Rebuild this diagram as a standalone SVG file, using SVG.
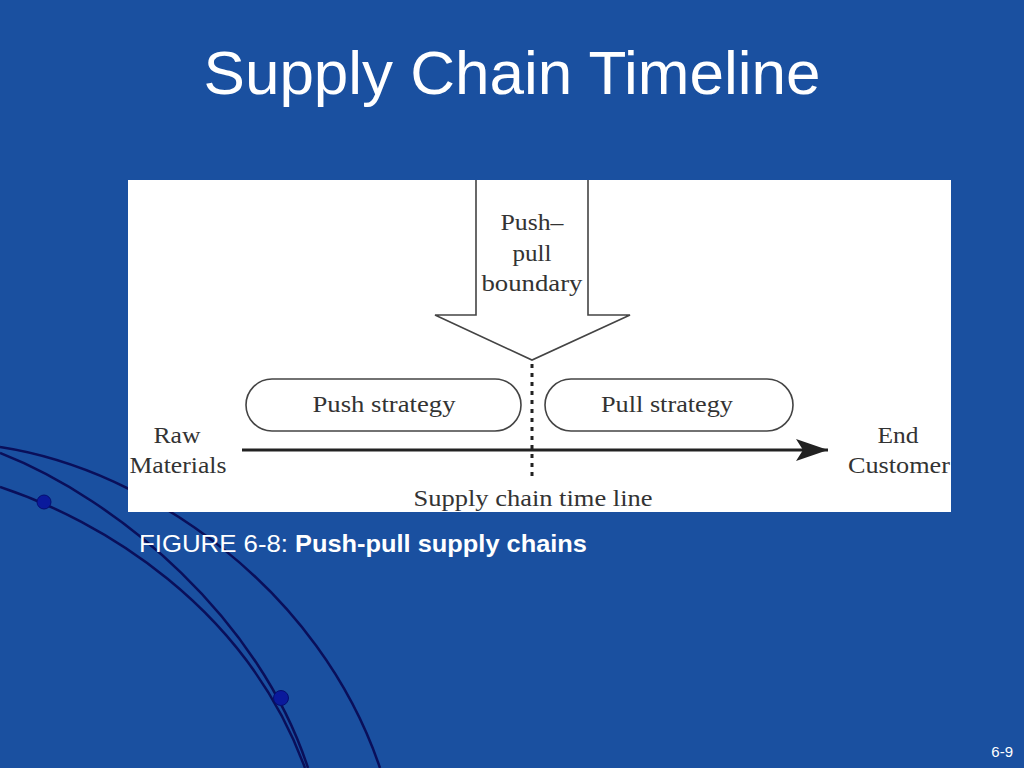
<svg xmlns="http://www.w3.org/2000/svg" width="1024" height="768" viewBox="0 0 1024 768">
<defs>
<style>
.swoosh{fill:none;stroke:#0a0f5a;stroke-width:2.5}
.dot{fill:#0a1a9c;stroke:#050f70;stroke-width:1}
.fig{font-family:"Liberation Serif","Times New Roman",serif;font-size:24px;fill:#333;text-anchor:middle}
.shape{fill:#fff;stroke:#444;stroke-width:1.6}
.white{font-family:"Liberation Sans",Arial,sans-serif;fill:#fff}
</style>
<marker id="head" markerUnits="userSpaceOnUse" markerWidth="34" markerHeight="24" refX="32" refY="11" orient="auto">
<path d="M0,0 L32,11 L0,22 L7,11 z" fill="#222"/>
</marker>
</defs>
<rect width="1024" height="768" fill="#1a50a0"/>
<g id="decoration">
<path class="swoosh" d="M0,447 C150,470 320,590 380,768"/>
<path class="swoosh" d="M0,453 C120,500 260,620 308,768"/>
<path class="swoosh" d="M0,487 C100,520 245,605 305,768"/>
<circle class="dot" cx="44" cy="502" r="7"/>
<circle class="dot" cx="281" cy="698" r="7.5"/>
</g>
<g id="title">
<text class="white" x="512" y="94" font-size="62" text-anchor="middle">Supply Chain Timeline</text>
</g>
<g id="figure-box">
<rect x="128" y="180" width="823" height="332" fill="#fff"/>
</g>
<g id="connectors">
<line x1="532" y1="364" x2="532" y2="476" stroke="#222" stroke-width="3" stroke-dasharray="4 5"/>
<line x1="242" y1="450" x2="828" y2="450" stroke="#222" stroke-width="3" marker-end="url(#head)"/>
</g>
<g id="push-pull-boundary">
<path class="shape" d="M476,180 L476,315 L435,315 L532,360 L630,315 L588,315 L588,180"/>
<text class="fig" x="532" y="230" textLength="63" lengthAdjust="spacingAndGlyphs">Push–</text>
<text class="fig" x="532" y="261" textLength="39" lengthAdjust="spacingAndGlyphs">pull</text>
<text class="fig" x="532" y="291" textLength="101" lengthAdjust="spacingAndGlyphs">boundary</text>
</g>
<g id="push-strategy">
<rect class="shape" x="246" y="379" width="275" height="52" rx="26"/>
<text class="fig" x="384" y="412" textLength="143" lengthAdjust="spacingAndGlyphs">Push strategy</text>
</g>
<g id="pull-strategy">
<rect class="shape" x="545" y="379" width="248" height="52" rx="26"/>
<text class="fig" x="667" y="412" textLength="132" lengthAdjust="spacingAndGlyphs">Pull strategy</text>
</g>
<g id="raw-materials">
<text class="fig" x="177" y="443" textLength="47" lengthAdjust="spacingAndGlyphs">Raw</text>
<text class="fig" x="178" y="473" textLength="97" lengthAdjust="spacingAndGlyphs">Materials</text>
</g>
<g id="end-customer">
<text class="fig" x="898" y="443" textLength="41" lengthAdjust="spacingAndGlyphs">End</text>
<text class="fig" x="899" y="473" textLength="102" lengthAdjust="spacingAndGlyphs">Customer</text>
</g>
<g id="timeline-label">
<text class="fig" x="533" y="506" textLength="239" lengthAdjust="spacingAndGlyphs">Supply chain time line</text>
</g>
<g id="caption">
<text class="white" y="552" font-size="24"><tspan x="139" textLength="149" lengthAdjust="spacingAndGlyphs">FIGURE 6-8:</tspan><tspan x="295" font-weight="bold" textLength="292" lengthAdjust="spacingAndGlyphs">Push-pull supply chains</tspan></text>
</g>
<g id="page-number">
<text class="white" x="1013" y="757" font-size="15" text-anchor="end">6-9</text>
</g>
</svg>
